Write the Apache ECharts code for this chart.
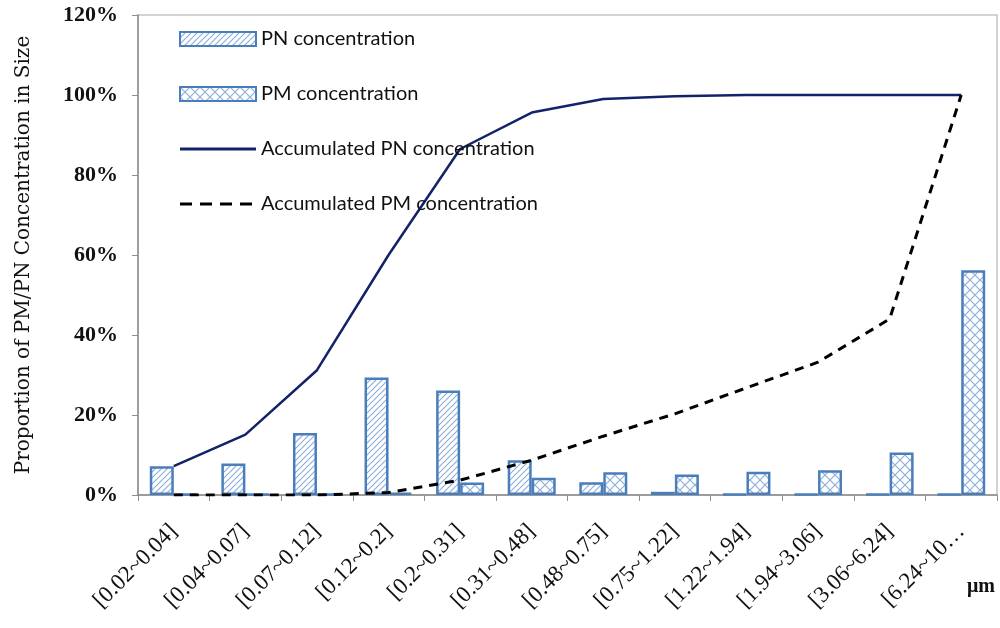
<!DOCTYPE html>
<html><head><meta charset="utf-8">
<script src="https://cdn.jsdelivr.net/npm/echarts@6/dist/echarts.min.js"></script>
<style>html,body{margin:0;padding:0;background:#fff}#c{width:1000px;height:628px}</style>
</head><body><div id="c"></div>
<script>
const categories = ['[0.02~0.04]','[0.04~0.07]','[0.07~0.12]','[0.12~0.2]','[0.2~0.31]','[0.31~0.48]','[0.48~0.75]','[0.75~1.22]','[1.22~1.94]','[1.94~3.06]','[3.06~6.24]','[6.24~10…'];
const pnConc = [7.2, 7.9, 15.5, 29.4, 26.1, 8.7, 3.2, 0.8, 0.2, 0.2, 0.2, 0.2];
const pmConc = [0.2, 0.2, 0.2, 0.6, 3.1, 4.3, 5.7, 5.1, 5.8, 6.2, 10.6, 56.2];
const accPN = [7.2, 15.1, 31.2, 60, 86.5, 95.6, 99, 99.7, 100, 100, 100, 100];
const accPM = [0, 0, 0, 0.6, 3.7, 8.7, 14.7, 20.3, 26.8, 33.2, 44, 100];
const yTicks = [0, 20, 40, 60, 80, 100, 120];

function hatch() {
  const c = document.createElement('canvas'); c.width = 6; c.height = 6;
  const g = c.getContext('2d'); g.fillStyle = '#fff'; g.fillRect(0,0,6,6);
  g.strokeStyle = '#8fb0dc'; g.lineWidth = 1.2;
  g.beginPath(); g.moveTo(0,6); g.lineTo(6,0); g.moveTo(-3,3); g.lineTo(3,-3); g.moveTo(3,9); g.lineTo(9,3); g.stroke();
  return c;
}
function cross() {
  const c = document.createElement('canvas'); c.width = 10; c.height = 10;
  const g = c.getContext('2d'); g.fillStyle = '#fff'; g.fillRect(0,0,10,10);
  g.strokeStyle = '#8fb0dc'; g.lineWidth = 1.2;
  g.beginPath(); g.moveTo(0,0); g.lineTo(10,10); g.moveTo(0,10); g.lineTo(10,0); g.stroke();
  return c;
}
const solidIcon = 'path://M0,0h0.1v0.1h-0.1z M0,5.6h76v2.8h-76z M75.9,13.9h0.1v0.1h-0.1z';
const dashIcon = 'path://M0,0h0.1v0.1h-0.1z M0,5.5h12v3h-12z M20,5.5h12v3h-12z M40,5.5h12v3h-12z M60,5.5h12v3h-12z M75.9,13.9h0.1v0.1h-0.1z';
const chart = echarts.init(document.getElementById('c'));
const border = '#4a7ebb';
chart.setOption({
  animation: false,
  grid: {left: 138, right: 3, top: 15, bottom: 133, show: true, borderColor: '#c4c4c4', borderWidth: 1.5},
  legend: {
    orient: 'vertical', left: 174, top: 24, itemGap: 35, itemWidth: 76, itemHeight: 14,
    textStyle: {fontFamily: 'Lato', fontSize: 20, color: '#111'},
    data: [
      {name: 'PN concentration', icon: 'rect'},
      {name: 'PM concentration', icon: 'rect'},
      {name: 'Accumulated PN concentration', icon: solidIcon, itemStyle: {color: '#13236a', borderWidth: 0}},
      {name: 'Accumulated PM concentration', icon: dashIcon, itemStyle: {color: '#000', borderWidth: 0}}
    ]
  },
  xAxis: {
    type: 'category', data: categories, boundaryGap: true,
    axisLine: {lineStyle: {color: '#8c8c8c', width: 1.5}},
    axisTick: {show: true, length: 6, lineStyle: {color: '#8c8c8c'}},
    axisLabel: {rotate: 45, fontFamily: 'Liberation Serif', fontSize: 23, color: '#111', margin: 33, interval: 0}
  },
  yAxis: {
    type: 'value', min: 0, max: 120, interval: 20,
    name: 'Proportion of PM/PN Concentration in Size', nameLocation: 'middle', nameGap: 104,
    nameTextStyle: {fontFamily: 'DejaVu Serif', fontSize: 20, color: '#111'},
    axisLine: {show: true, lineStyle: {color: '#8c8c8c', width: 1.5}},
    axisTick: {show: true, length: 6, lineStyle: {color: '#8c8c8c'}},
    splitLine: {show: false},
    axisLabel: {formatter: v => v + '%', fontFamily: 'Liberation Serif', fontWeight: 'bold', fontSize: 22, color: '#111', margin: 20}
  },
  graphic: [{type: 'text', left: 967, top: 577, style: {text: 'μm', font: 'bold 20px "Liberation Serif"', fill: '#111'}}],
  series: [
    {name: 'PN concentration', type: 'bar', data: pnConc, barWidth: 24, barGap: '0%',
     itemStyle: {color: {image: hatch(), repeat: 'repeat'}, borderColor: border, borderWidth: 2.5}},
    {name: 'PM concentration', type: 'bar', data: pmConc, barWidth: 24,
     itemStyle: {color: {image: cross(), repeat: 'repeat'}, borderColor: border, borderWidth: 2.5}},
    {name: 'Accumulated PN concentration', type: 'line', data: accPN, symbol: 'none',
     lineStyle: {color: '#13236a', width: 2.5}, itemStyle: {color: '#13236a'}},
    {name: 'Accumulated PM concentration', type: 'line', data: accPM, symbol: 'none',
     lineStyle: {color: '#000', width: 3, type: [9, 7]}, itemStyle: {color: '#000'}}
  ]
});
</script></body></html>
